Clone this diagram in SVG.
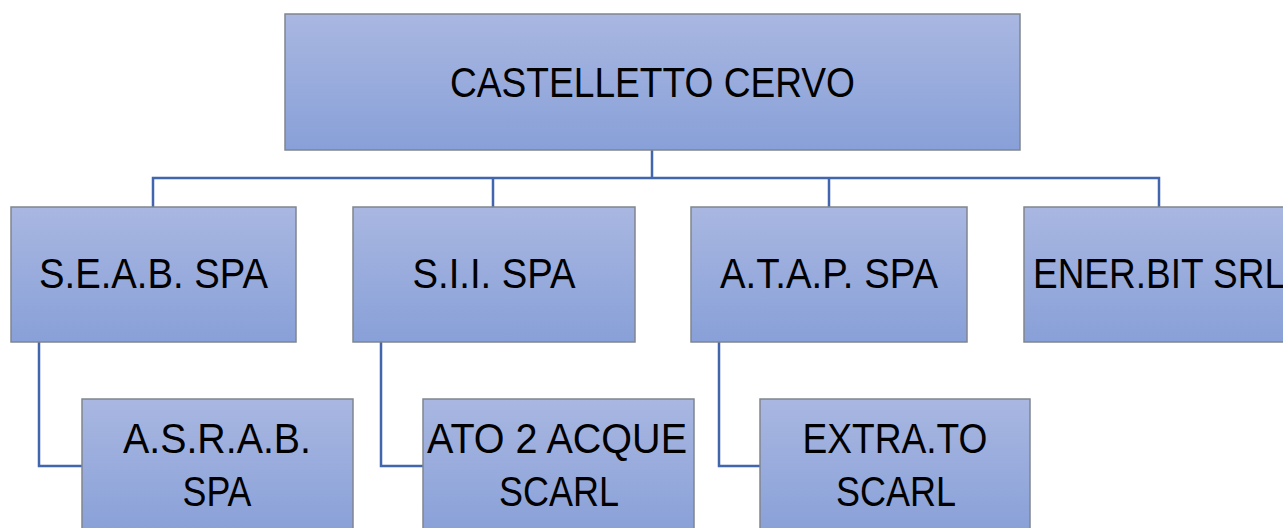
<svg xmlns="http://www.w3.org/2000/svg" width="1283" height="528" viewBox="0 0 1283 528">
<defs>
<linearGradient id="g" x1="0" y1="0" x2="0" y2="1">
<stop offset="0" stop-color="#A9B7E1"/>
<stop offset="1" stop-color="#88A0D8"/>
</linearGradient>
<style>
.box{fill:url(#g);stroke:#80858F;stroke-width:1.5}
.t{font-family:"Liberation Sans",Arial,sans-serif;font-size:42px;fill:#000;text-anchor:middle}
.c{fill:none;stroke:#4166AE;stroke-width:2.5}
</style>
</defs>
<rect width="1283" height="528" fill="#fff"/>
<g id="connectors">
<path class="c" d="M652 150V178M153 207V178H1159V207M493 178V207M829 178V207"/>
<path class="c" d="M39 342V466H82M381 342V466H423M719 342V466H760"/>
</g>
<g id="castelletto">
<rect class="box" x="285" y="14" width="735" height="136"/>
<text class="t" x="652.5" y="97" textLength="405" lengthAdjust="spacingAndGlyphs">CASTELLETTO CERVO</text>
</g>
<g id="seab">
<rect class="box" x="11" y="207" width="285" height="135"/>
<text class="t" x="153.5" y="288" textLength="229" lengthAdjust="spacingAndGlyphs">S.E.A.B. SPA</text>
</g>
<g id="sii">
<rect class="box" x="353" y="207" width="282" height="135"/>
<text class="t" x="494" y="288" textLength="163" lengthAdjust="spacingAndGlyphs">S.I.I. SPA</text>
</g>
<g id="atap">
<rect class="box" x="691" y="207" width="276" height="135"/>
<text class="t" x="829" y="288" textLength="218" lengthAdjust="spacingAndGlyphs">A.T.A.P. SPA</text>
</g>
<g id="enerbit">
<rect class="box" x="1024" y="207" width="270" height="135"/>
<text class="t" x="1159" y="288" textLength="252" lengthAdjust="spacingAndGlyphs">ENER.BIT SRL</text>
</g>
<g id="asrab">
<rect class="box" x="82" y="399" width="271" height="136"/>
<text class="t" x="217" y="453" textLength="188" lengthAdjust="spacingAndGlyphs">A.S.R.A.B.</text>
<text class="t" x="217" y="506" textLength="69" lengthAdjust="spacingAndGlyphs">SPA</text>
</g>
<g id="ato2">
<rect class="box" x="423" y="399" width="271" height="136"/>
<text class="t" x="557" y="453" textLength="260" lengthAdjust="spacingAndGlyphs">ATO 2 ACQUE</text>
<text class="t" x="559" y="506" textLength="120" lengthAdjust="spacingAndGlyphs">SCARL</text>
</g>
<g id="extrato">
<rect class="box" x="760" y="399" width="270" height="136"/>
<text class="t" x="895" y="453" textLength="185" lengthAdjust="spacingAndGlyphs">EXTRA.TO</text>
<text class="t" x="896" y="506" textLength="120" lengthAdjust="spacingAndGlyphs">SCARL</text>
</g>
</svg>
